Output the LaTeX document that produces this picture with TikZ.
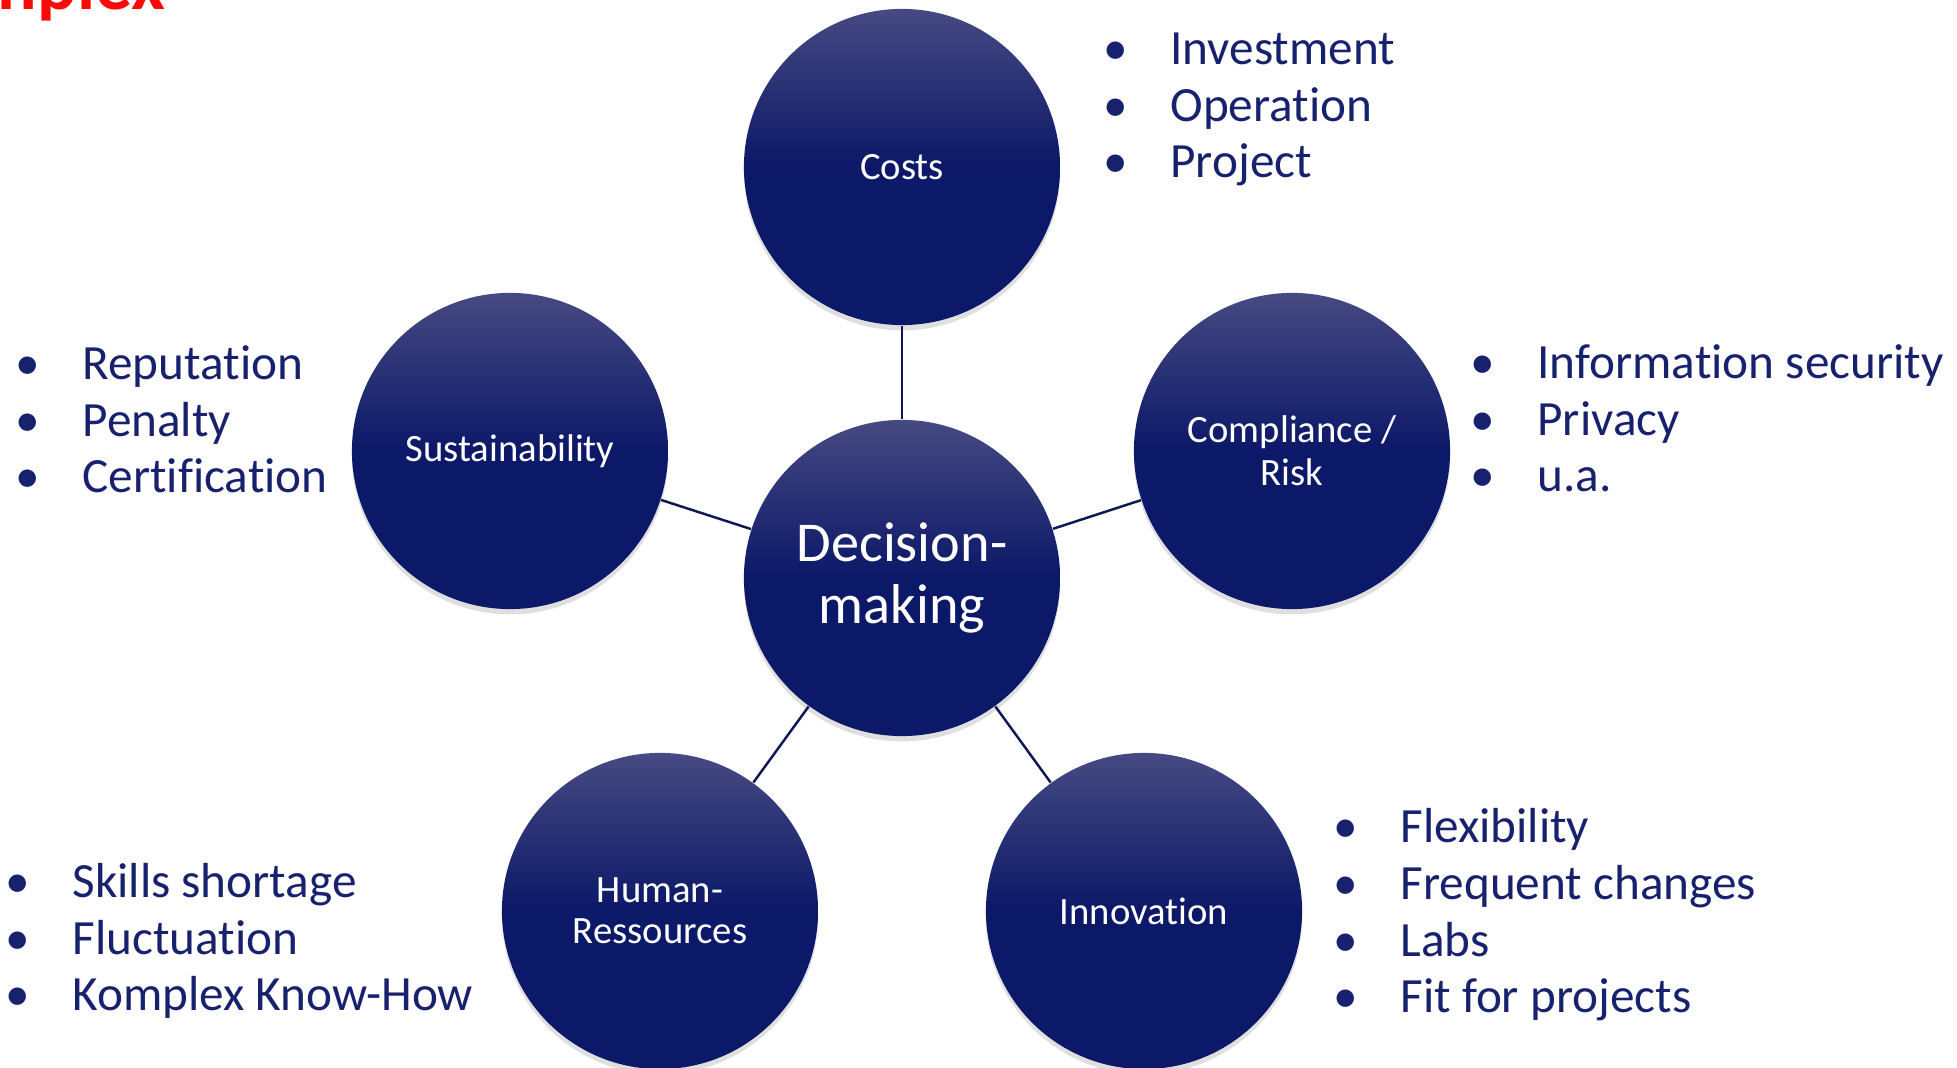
\documentclass[tikz,border=0pt]{standalone}
\usepackage{fontspec}
\setmainfont{Carlito}[Ligatures=NoCommon]
\usetikzlibrary{shadows}
\definecolor{cus-navy}{RGB}{24,33,110}
\definecolor{cus-top}{RGB}{70,74,130}
\definecolor{cus-bot}{RGB}{12,24,104}
\definecolor{cus-line}{RGB}{16,24,84}
\definecolor{cus-red}{RGB}{250,10,10}
\newcommand{\itm}{\makebox[19pt][l]{\textbullet}}

\begin{document}
\begin{tikzpicture}[x=0.01cm, y=-0.01cm,
	ball/.style={circle, minimum size=3.16cm, inner sep=0pt, top color=cus-top, bottom color=cus-bot, middle color=cus-bot,
		text=white, align=center, font=\fontsize{11}{12}\selectfont,
		drop shadow={shadow xshift=0pt, shadow yshift=-1.5pt, opacity=.25}},
	list/.style={anchor=base west, inner sep=0pt, text=cus-navy, align=left, font=\fontsize{14}{16.2}\selectfont}]
\useasboundingbox (0,0) rectangle (1957,1068);
\clip (0,0) rectangle (1957,1068);

\node [anchor=base west, inner sep=0pt, text=cus-red, font=\fontsize{21}{21}\selectfont\bfseries] (title) at (-3,10) {nplex};

\node [ball, font=\fontsize{16}{17.6}\selectfont] (dm) at (902,578) {Decision-\\making};
\node [ball] (costs) at (902,167) {Costs};
\node [ball, font=\fontsize{11}{12.2}\selectfont] (comp) at (1292,451) {Compliance /\\Risk};
\node [ball] (inno) at (1144,911) {Innovation};
\node [ball, font=\fontsize{11}{11.7}\selectfont] (hr) at (660,911) {Human-\\Ressources};
\node [ball] (sust) at (510,451) {Sustainability};

\foreach \o in {costs,comp,inno,hr,sust}
	\draw [cus-line, line width=0.7pt] (dm) -- (\o);

% base anchor = last line
\node [list] (costs-l) at (1103,178) {\itm Investment\\ \itm Operation\\ \itm Project};
\node [list] (comp-l) at (1470,492) {\itm Information security\\ \itm Privacy\\ \itm u.a.};
\node [list] (inno-l) at (1333,1013) {\itm Flexibility\\ \itm Frequent changes\\ \itm Labs\\ \itm Fit for projects};
\node [list] (hr-l) at (5,1011) {\itm Skills shortage\\ \itm Fluctuation\\ \itm Komplex Know-How};
\node [list] (sust-l) at (15,493) {\itm Reputation\\ \itm Penalty\\ \itm Certification};
\end{tikzpicture}
\end{document}
